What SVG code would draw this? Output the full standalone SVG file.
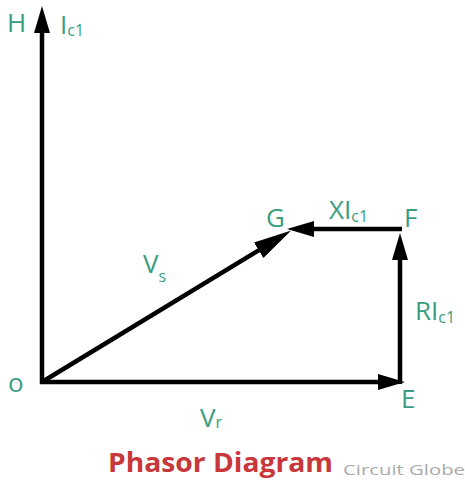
<svg xmlns="http://www.w3.org/2000/svg" width="465" height="489" viewBox="0 0 465 489">
<style>
.ln{stroke:#000;stroke-width:4.5;fill:none}
.lb{font-family:"Open Sans","Liberation Sans",sans-serif;fill:#3a9e7e;font-size:26px}
.sb{font-size:16px}
</style>
<defs>
<marker id="ah" markerUnits="userSpaceOnUse" markerWidth="30" markerHeight="18" refX="12" refY="8" orient="auto">
<path d="M0,0 L27,8 L0,16 z" fill="#000"/>
</marker>
<marker id="ahl" markerUnits="userSpaceOnUse" markerWidth="40" markerHeight="20" refX="24" refY="9" orient="auto">
<path d="M0,0 L38,9 L0,18 z" fill="#000"/>
</marker>
</defs>
<rect width="465" height="489" fill="#fff"/>
<g id="connectors">
<line class="ln" x1="42" y1="384" x2="42" y2="21" marker-end="url(#ah)"/>
<line class="ln" x1="40" y1="382" x2="390" y2="382" marker-end="url(#ah)"/>
<line class="ln" x1="400" y1="384" x2="400" y2="248" marker-end="url(#ah)"/>
<line class="ln" x1="402" y1="229" x2="302" y2="229" marker-end="url(#ah)"/>
<line class="ln" x1="42" y1="382" x2="279.2" y2="237.8" marker-end="url(#ahl)"/>
</g>
<g id="H"><text class="lb" x="7" y="32">H</text></g>
<g id="Ic1"><text class="lb" x="60" y="34">I<tspan class="sb" dy="2">c1</tspan></text></g>
<g id="G"><text class="lb" x="266" y="227">G</text></g>
<g id="XIc1"><text class="lb" x="329" y="219">XI<tspan class="sb" dy="3">c1</tspan></text></g>
<g id="F"><text class="lb" x="404" y="227">F</text></g>
<g id="Vs"><text class="lb" x="143" y="273">V<tspan class="sb" dy="9">s</tspan></text></g>
<g id="RIc1"><text class="lb" x="415" y="320">RI<tspan class="sb" dy="3">c1</tspan></text></g>
<g id="O"><text class="lb" x="8" y="392">o</text></g>
<g id="E"><text class="lb" x="401" y="408">E</text></g>
<g id="Vr"><text class="lb" x="200" y="427">V<tspan class="sb" dy="1">r</tspan></text></g>
<g id="title">
<text x="108" y="472" font-family="'Open Sans','Liberation Sans',sans-serif" font-weight="bold" font-size="26" fill="#c8373a" textLength="225" lengthAdjust="spacingAndGlyphs">Phasor Diagram</text>
<text x="343" y="475" font-family="'Open Sans','Liberation Sans',sans-serif" font-size="15" fill="#aaaaaa" textLength="122" lengthAdjust="spacingAndGlyphs">Circuit Globe</text>
</g>
</svg>
